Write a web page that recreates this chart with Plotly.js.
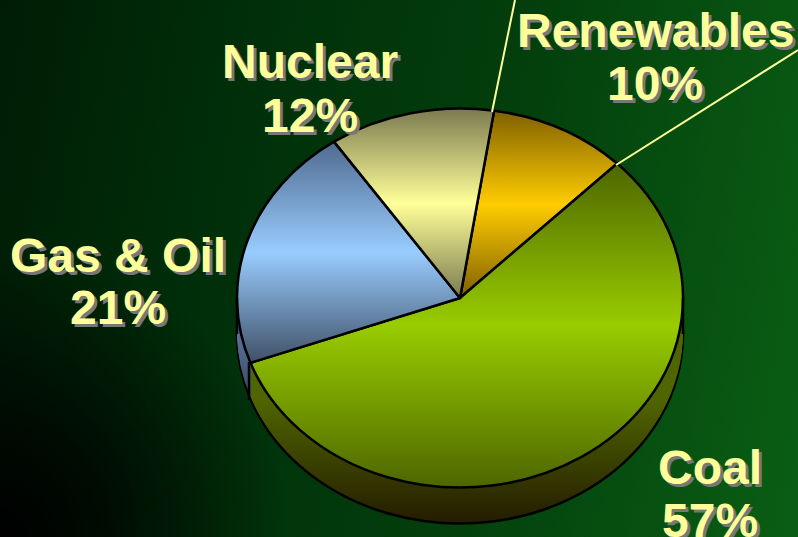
<!DOCTYPE html>
<html><head><meta charset="utf-8">
<script src="https://cdn.plot.ly/plotly-3.0.1.min.js"></script>
<style>
html,body{margin:0;padding:0;width:798px;height:537px;overflow:hidden;}
#chart{width:798px;height:537px;background:radial-gradient(circle 290px at 0% 100%,rgba(0,0,0,1) 0%,rgba(0,0,0,.75) 35%,rgba(0,0,0,0) 100%),linear-gradient(100deg,#001c05 0%,#002e09 27%,#033f0c 60%,#0a5e14 100%);}
</style></head>
<body><div id="chart"></div>
<script>
const categories = ['Renewables','Coal','Gas & Oil','Nuclear'];
const values = [10,57,21,12];
const percentLabels = ['10%','57%','21%','12%'];
const labelCenterX = [655,710,118,310];
const labelNameY = [30,467,255,62];
const labelPctY = [83,520,307,115];
const topStops = [['#7f6000','#ffcc00','#7f6000'],['#4d6600','#99cc00','#4d6600'],['#4f6a8f','#99ccff','#3f5066'],['#7a7a50','#ffff99','#7a7a50']];
const rimStops = [['#806600','#332800'],['#4f6500','#241c00'],['#566f94','#2f3f55'],['#7f7f55','#33331f']];
const W=798,H=537,cx=460,cy=298,rx=223,squash=0.85,depth=36,step=2,rotation=8.8;
const layers=[]; for(let d=depth;d>0;d-=step) layers.push(d);
layers.push(0);
const base={type:'pie',labels:categories,values:values,sort:false,direction:'clockwise',rotation:rotation,
  textinfo:'none',hoverinfo:'skip',showlegend:false,
  domain:{x:[(cx-rx)/W,(cx+rx)/W],y:[1-(cy+rx)/H,1-(cy-rx)/H]}};
const traces=layers.map(d=>Object.assign({},base,{
  marker:{colors:['#ffcc00','#99cc00','#99ccff','#ffff99'],
    line:{color:'#000',width:(d===0||d===depth)?2.5:0}}}));
const annotations=[];
categories.forEach((c,i)=>{
  [[c,labelNameY[i]],[percentLabels[i],labelPctY[i]]].forEach(([t,y])=>annotations.push({
    text:t,xref:'paper',yref:'paper',x:labelCenterX[i]/W,y:1-y/H,xanchor:'center',yanchor:'middle',showarrow:false,
    font:{family:'"Liberation Sans",Arial,sans-serif',size:48,weight:700,color:'#ffff99',shadow:'3px 3px 0 #777777'}}));
});
const shp=(x0,y0,x1,y1,col,w)=>({type:'line',xref:'paper',yref:'paper',x0:x0/W,y0:1-y0/H,x1:x1/W,y1:1-y1/H,line:{color:col,width:w}});
const shapes=[shp(492,112,515,0,'#ffff99',2),shp(616,165,798,50,'#ffff99',2),
  shp(237,298,237,334,'#000',2.5),shp(683,298,683,334,'#000',2.5),shp(249,362,249,400,'#000',2.5)];
const layout={width:W,height:H,margin:{l:0,r:0,t:0,b:0,pad:0},paper_bgcolor:'rgba(0,0,0,0)',plot_bgcolor:'rgba(0,0,0,0)',
  annotations:annotations,shapes:shapes};
Plotly.newPlot('chart',traces,layout,{displayModeBar:false,staticPlot:true}).then(gd=>{
  const NS='http://www.w3.org/2000/svg';
  const svg=gd.querySelector('svg.main-svg');
  const defs=svg.querySelector('defs')||svg.insertBefore(document.createElementNS(NS,'defs'),svg.firstChild);
  function grad(id,stops,attrs){
    const g=document.createElementNS(NS,'linearGradient');g.setAttribute('id',id);
    Object.entries(attrs).forEach(([k,v])=>g.setAttribute(k,v));
    stops.forEach((s,i)=>{const st=document.createElementNS(NS,'stop');
      st.setAttribute('offset',i/(stops.length-1));st.setAttribute('stop-color',s);g.appendChild(st);});
    defs.appendChild(g);
  }
  topStops.forEach((s,i)=>grad('top'+i,s,{x1:0,y1:0,x2:0,y2:1}));
  const groups=gd.querySelectorAll('.pielayer .trace');
  groups.forEach((tg,k)=>{
    const d=layers[k];
    tg.setAttribute('transform',`translate(0,${cy+d}) scale(1,${squash}) translate(0,${-cy})`);
    const loc=y=>cy+(y-cy-d)/squash;
    const slices=tg.querySelectorAll('.slice path.surface');
    slices.forEach((p,i)=>{
      if(d===0){p.style.fill=`url(#top${i})`;}
      else{
        const id=`rim${k}_${i}`;
        grad(id,rimStops[i],{gradientUnits:'userSpaceOnUse',x1:0,x2:0,y1:loc(i===2?340:400),y2:loc(i===2?410:523)});
        p.style.fill=`url(#${id})`;
      }
      p.style.vectorEffect='non-scaling-stroke';
    });
  });
});
</script></body></html>
